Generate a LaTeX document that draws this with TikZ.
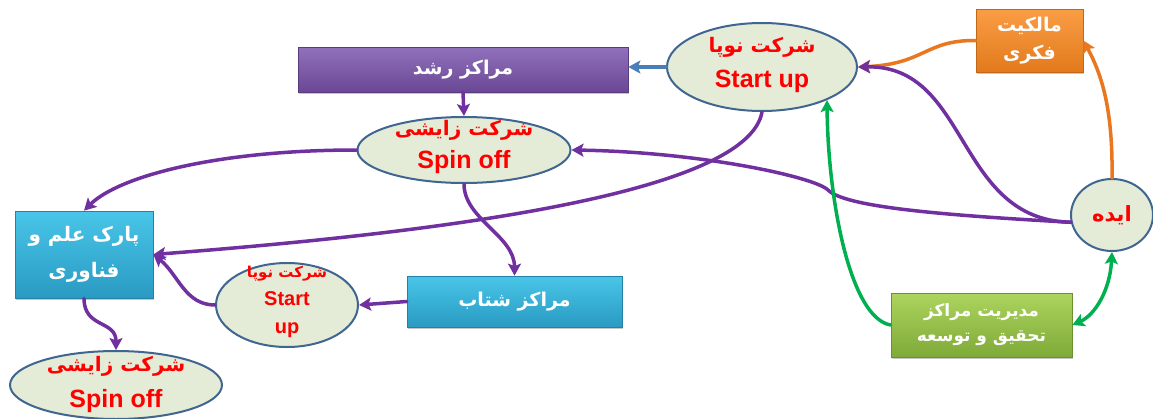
\documentclass[tikz,border=0pt]{standalone}
\usepackage{fontspec}
\setmainfont{Liberation Sans}
\newfontfamily\fa[Script=Arabic]{DejaVu Sans}
\TeXXeTstate=1
\usetikzlibrary{shapes.geometric,arrows.meta,shadows}

\definecolor{bubblefill}{HTML}{E4EBD7}
\definecolor{bubbleline}{HTML}{3F6591}
\definecolor{flowpurple}{HTML}{7030A0}
\definecolor{flowblue}{HTML}{4A7EBB}
\definecolor{floworange}{HTML}{E8771F}
\definecolor{flowgreen}{HTML}{00B050}
\definecolor{purpletop}{HTML}{9071BC}
\definecolor{purplebot}{HTML}{6A4794}
\definecolor{cyantop}{HTML}{48C6E8}
\definecolor{cyanbot}{HTML}{2A9AC2}
\definecolor{orangetop}{HTML}{FA9D45}
\definecolor{orangebot}{HTML}{E27A1C}
\definecolor{greentop}{HTML}{ACD45E}
\definecolor{greenbot}{HTML}{7FAA38}

% bold Persian font at a given size
\newcommand{\fab}[1]{\fa\bfseries\fontsize{#1}{#1}\selectfont}

\tikzset{
  flowtip/.tip={Stealth[length=12pt,width=13pt,inset=2.5pt]},
  bubble/.style={ellipse, draw=bubbleline, line width=2pt, fill=bubblefill, inner sep=0pt},
  bubbletext/.style={align=center, text=red, inner sep=0pt},
  card/.style={rectangle, inner sep=0pt, align=center, text=white, line width=0.7pt,
    drop shadow={shadow xshift=1pt, shadow yshift=-1.5pt, opacity=0.22, fill=black}},
  flow/.style={line width=3.5pt, line cap=round, -{flowtip}},
}

\begin{document}
\begin{tikzpicture}[x=1pt, y=-1pt]
\useasboundingbox (0,0) rectangle (1153,418);
\fill[white] (0,0) rectangle (1153,418);

% ---- boxes ----
\node[card, draw=purplebot!85!black, top color=purpletop, bottom color=purplebot,
  minimum width=330pt, minimum height=45pt, font=\fontsize{19}{36}\selectfont] (rushd) at (463,69.5)
  {{\fab{19}\beginR مراکز رشد\endR}};
\node[card, draw=cyanbot!85!black, top color=cyantop, bottom color=cyanbot,
  minimum width=138pt, minimum height=87pt, font=\fontsize{20}{36}\selectfont] (park) at (84,254.5)
  {{\fab{20}\beginR پارک علم و\endR}\\{\fab{20}\beginR فناوری\endR}};
\node[card, draw=cyanbot!85!black, top color=cyantop, bottom color=cyanbot,
  minimum width=215pt, minimum height=51pt, font=\fontsize{19}{36}\selectfont] (shetab) at (514.5,301.5)
  {{\fab{19}\beginR مراکز شتاب\endR}};
\node[card, draw=orangebot!85!black, top color=orangetop, bottom color=orangebot,
  minimum width=107pt, minimum height=63pt, font=\fontsize{19}{28}\selectfont] (malk) at (1029.5,40.5)
  {{\fab{19}\beginR مالکیت\endR}\\{\fab{19}\beginR فکری\endR}};
\node[card, draw=greenbot!85!black, top color=greentop, bottom color=greenbot,
  minimum width=181pt, minimum height=64pt, font=\fontsize{17}{25}\selectfont] (rd) at (981.5,325)
  {{\fab{17}\beginR مدیریت مراکز\endR}\\{\fab{17}\beginR تحقیق و توسعه\endR}};

% ---- bubbles ----
\node[bubble, minimum width=190pt, minimum height=88pt] (su) at (762,67) {};
\node[bubbletext, font=\bfseries\fontsize{25}{35}\selectfont] (sut) at (762,65)
  {{\fab{20}\beginR شرکت نوپا\endR}\\Start up};
\node[bubble, minimum width=213pt, minimum height=66pt] (spinA) at (464,150) {};
\node[bubbletext, font=\bfseries\fontsize{25}{33}\selectfont] (spinAt) at (464,147)
  {{\fab{20}\beginR شرکت زایشی\endR}\\Spin off};
\node[bubble, minimum width=142pt, minimum height=84pt] (suB) at (287,305) {};
\node[bubbletext, font=\bfseries\fontsize{20}{28}\selectfont] (suBt) at (287,302)
  {{\fab{15}\beginR شرکت نوپا\endR}\\Start\\up};
\node[bubble, minimum width=212pt, minimum height=68pt] (spinB) at (116,385) {};
\node[bubbletext, font=\bfseries\fontsize{25}{36}\selectfont] (spinBt) at (116,384)
  {{\fab{20}\beginR شرکت زایشی\endR}\\Spin off};
\node[bubble, minimum width=82pt, minimum height=72pt, text=red] (idea) at (1112,215)
  {{\fab{21}\beginR ایده\endR}};

% ---- connectors ----
\draw[flow, flowblue] (su.west) -- (su.west -| rushd.east);
\draw[flow, flowpurple] (rushd.south) -- (spinA.north);
\draw[flow, flowpurple] (spinA.west) .. controls (218,150) and (119,176) .. (park.north);
\draw[flow, flowpurple] (spinA.south) .. controls +(0,35) and +(0,-40) .. (shetab.north);
\draw[flow, flowpurple] (su.south) .. controls +(-15,85) and +(260,-20) .. (park.east);
\draw[flow, flowpurple] (suB.west) .. controls +(-30,0) and +(25,20) .. (park.east);
\draw[flow, flowpurple] (shetab.west) -- (suB.east);
\draw[flow, flowpurple] (park.south) .. controls +(0,30) and +(0,-30) .. (spinB.north);

\draw[flow, floworange] (idea.north) .. controls (1113,110) and (1102,75) .. (malk.east);
\draw[flow, floworange] (malk.west) .. controls (925,40) and (925,64) .. (su.east);

\draw[flow, flowpurple] (idea.190) .. controls (955,220) and (970,65) .. (su.east);
\draw[flow, flowpurple] (idea.190) .. controls (940,215) and (845,207) .. (828,190)
  .. controls (815,177) and (700,152) .. (spinA.east);

\draw[flow, flowgreen] (rd.west) .. controls (850,318) and (828,200) .. (su.-27);
\draw[flow, flowgreen, {flowtip}-{flowtip}]
  (rd.east) .. controls (1095,315) and (1110,290) .. (idea.south);
\end{tikzpicture}
\end{document}
